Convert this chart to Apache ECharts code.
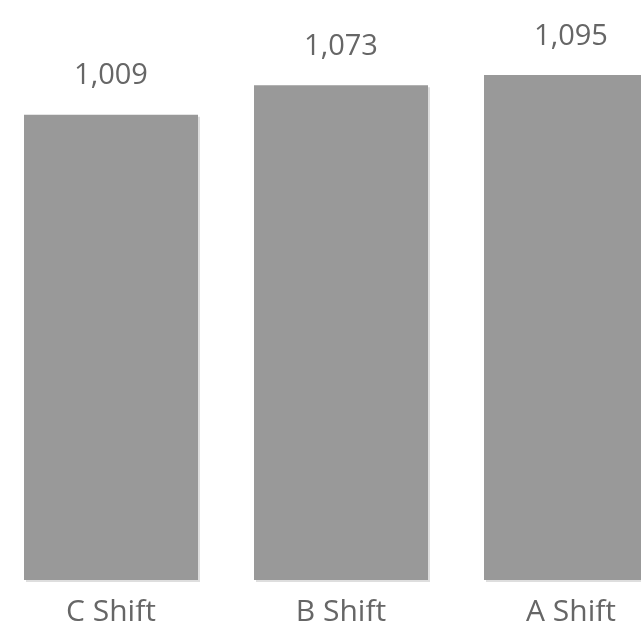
<!DOCTYPE html>
<html>
<head>
<meta charset="utf-8">
<script src="https://cdn.jsdelivr.net/npm/echarts@6/dist/echarts.min.js"></script>
<style>html,body{margin:0;padding:0;background:#fff}#c{width:641px;height:629px}</style>
</head>
<body>
<div id="c"></div>
<script>
const categories = ['C Shift', 'B Shift', 'A Shift'];
const values = [1009, 1073, 1095];

const chart = echarts.init(document.getElementById('c'));
chart.setOption({
  animation: false,
  grid: { left: -4, width: 690, top: 75, bottom: 49, outerBoundsMode: 'none', containLabel: false },
  xAxis: {
    type: 'category',
    data: categories,
    axisLine: { show: false },
    axisTick: { show: false },
    axisLabel: { color: '#666', fontFamily: 'Open Sans', fontSize: 30, margin: 17 }
  },
  yAxis: {
    type: 'value', min: 0, max: 1095, show: false,
    splitLine: { show: false }
  },
  series: [{
    type: 'bar',
    data: values,
    barWidth: 174,
    itemStyle: { color: '#999999', shadowColor: '#dedede', shadowOffsetX: 2, shadowOffsetY: 2, shadowBlur: 0 },
    label: {
      show: true, position: 'top', distance: 24,
      color: '#666', fontFamily: 'Open Sans', fontSize: 29,
      formatter: p => p.value.toLocaleString('en-US')
    }
  }]
});
</script>
</body>
</html>
